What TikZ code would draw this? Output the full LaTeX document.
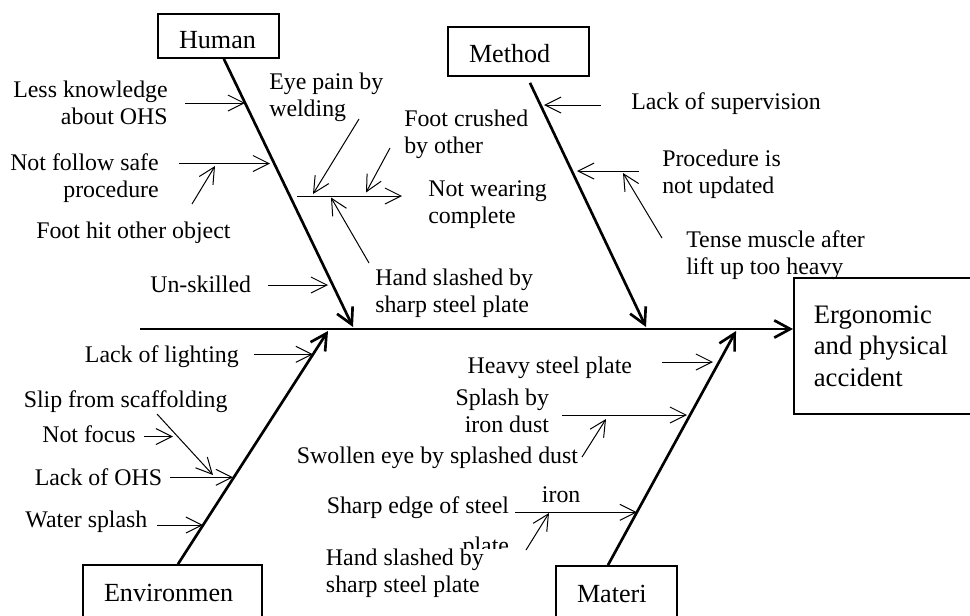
\documentclass[tikz,border=0pt]{standalone}
\usepackage{fontspec}
\setmainfont{Liberation Serif}
\usetikzlibrary{arrows.meta,calc}
\tikzset{
  cause/.style={inner sep=0pt, font=\fontsize{17.9pt}{20.25pt}\selectfont},
  category/.style={draw, line width=1.3pt, inner ysep=0pt, inner xsep=15.75pt,
                   align=flush left, text depth=0pt,
                   font=\fontsize{19.6pt}{23pt}\selectfont},
  effect/.style={draw, line width=1.3pt, inner ysep=0pt, inner xsep=15pt,
                 align=flush left, text width=130pt, minimum height=102pt,
                 font=\fontsize{20pt}{23.6pt}\selectfont},
  bone/.style={-{Straight Barb[length=12pt,width=13pt]}, line width=2pt},
  twig/.style={-{Straight Barb[length=12pt,width=12pt]}, line width=0.75pt}
}
\begin{document}
\begin{tikzpicture}[x=0.75pt, y=-0.75pt]
\useasboundingbox (0,0) rectangle (970,615);
\node[category, text width=59.25pt, minimum height=33pt, text height=18pt] (human) at (218.5,36) {Human};
\node[category, text width=74.25pt, minimum height=36.75pt, text height=17.2pt] (method) at (518.5,51.5) {Method};
\node[category, text width=102.75pt, minimum height=42pt, text height=12pt] (environment) at (172.5,593) {Environmen};
\node[category, text width=59.25pt, minimum height=42pt, text height=12pt] (material) at (616.5,594) {Materi};
\node[effect, anchor=north west] (accident) at (793,277) {Ergonomic\\and physical\\accident};

\coordinate (spine) at (140,329);
\coordinate (hj) at (353,327);
\coordinate (mj) at (646,327);
\coordinate (ej) at (328,331);
\coordinate (aj) at (736,331);
\draw[bone] (spine) -- (spine -| accident.west);
\draw[bone] ([xshift=4pt]human.south) -- (hj);
\draw[bone] ([xshift=8.6pt,yshift=-4.5pt]method.south) -- (mj);
\draw[bone] ([xshift=4.1pt]environment.north) -- (ej);
\draw[bone] ([xshift=-6.4pt]material.north) -- (aj);

\node[cause, anchor=north east, align=right] (knowledge) at (168,80.7) {Less knowledge\\about OHS};
\node[cause, anchor=north east, align=right] (procedure) at (159,153.7) {Not follow safe\\procedure};
\node[cause, anchor=north west] (foothit) at (36,221.7) {Foot hit other object};
\node[cause, anchor=north west] (unskilled) at (150,275.7) {Un-skilled};
\node[cause, anchor=north west, align=left] (eyepain) at (269,72.7) {Eye pain by\\welding};
\node[cause, anchor=north west, align=left] (crushed) at (404,109.7) {Foot crushed\\by other};
\node[cause, anchor=north west, align=left] (wearing) at (428,180.7) {Not wearing\\complete};
\node[cause, anchor=north west, align=left] (slashed) at (375,268.7) {Hand slashed by\\sharp steel plate};

\coordinate (kn0) at (185,103);   \coordinate (kn1) at (245,103);
\coordinate (pr0) at (179,163.5); \coordinate (pr1) at (270,163.5);
\coordinate (fh0) at (192,204);   \coordinate (fh1) at (215,166);
\coordinate (un0) at (268,285);   \coordinate (un1) at (328,285);
\coordinate (nw0) at (297,196);   \coordinate (nw1) at (402,196);
\coordinate (ep0) at (359,119);   \coordinate (ep1) at (313,194);
\coordinate (fc0) at (390,148);   \coordinate (fc1) at (366,192.5);
\coordinate (hs0) at (369,263);   \coordinate (hs1) at (331,197.5);
\draw[twig] (kn0) -- (kn1);
\draw[twig] (pr0) -- (pr1);
\draw[twig] (fh0) -- (fh1);
\draw[twig] (un0) -- (un1);
\draw[twig] (nw0) -- (nw1);
\draw[twig] (ep0) -- (ep1);
\draw[twig] (fc0) -- (fc1);
\draw[twig] (hs0) -- (hs1);

\node[cause, anchor=north west] (supervision) at (631,92.7) {Lack of supervision};
\node[cause, anchor=north west, align=left] (updated) at (662,149.7) {Procedure is\\not updated};
\node[cause, anchor=north west, align=left] (tense) at (686,230.7) {Tense muscle after\\lift up too heavy};
\coordinate (su0) at (601,105); \coordinate (su1) at (544,105);
\coordinate (up0) at (639,171); \coordinate (up1) at (577,171);
\coordinate (te0) at (662,238); \coordinate (te1) at (623,173);
\draw[twig] (su0) -- (su1);
\draw[twig] (up0) -- (up1);
\draw[twig] (te0) -- (te1);

\node[cause, anchor=north east] (lighting) at (239,345.7) {Lack of lighting};
\node[cause, anchor=north west] (slip) at (23.5,390.7) {Slip from scaffolding};
\node[cause, anchor=north east] (focus) at (136,425.7) {Not focus};
\node[cause, anchor=north east] (ohs) at (162.3,468.7) {Lack of OHS};
\node[cause, anchor=north east] (water) at (147.7,510.7) {Water splash};
\coordinate (li0) at (254,354.3); \coordinate (li1) at (313,354.3);
\coordinate (sl0) at (157,414);   \coordinate (sl1) at (213,475);
\coordinate (fo0) at (144,436.5); \coordinate (fo1) at (173,436.5);
\coordinate (oh0) at (170,477.3); \coordinate (oh1) at (233,477.3);
\coordinate (wa0) at (157,525);   \coordinate (wa1) at (203,525);
\draw[twig] (li0) -- (li1);
\draw[twig] (sl0) -- (sl1);
\draw[twig] (fo0) -- (fo1);
\draw[twig] (oh0) -- (oh1);
\draw[twig] (wa0) -- (wa1);

\node[cause, anchor=north east] (heavy) at (632.3,356.7) {Heavy steel plate};
\node[cause, anchor=north east, align=right] (splash) at (549.3,388.7) {Splash by\\iron dust};
\node[cause, anchor=north west] (swollen) at (296.7,446.7) {Swollen eye by splashed dust};
\node[cause, anchor=north east, align=right] (edge) at (509.3,496.7) {Sharp edge of steel\\[9.75pt]plate};
\node[cause, anchor=north west] (iron) at (541.7,486.7) {iron};
\node[cause, anchor=north west, align=flush left, text width=142pt, fill=white] (handslash) at (325.7,548.7) {Hand slashed by\\sharp steel plate};
\coordinate (he0) at (662,362);   \coordinate (he1) at (713,362);
\coordinate (sp0) at (562,415);   \coordinate (sp1) at (687,415);
\coordinate (sw0) at (582,457);   \coordinate (sw1) at (606,419);
\coordinate (ed0) at (515,512.3); \coordinate (ed1) at (637,512.3);
\coordinate (hb0) at (526,550);   \coordinate (hb1) at (549,513);
\draw[twig] (he0) -- (he1);
\draw[twig] (sp0) -- (sp1);
\draw[twig] (sw0) -- (sw1);
\draw[twig] (ed0) -- (ed1);
\draw[twig] (hb0) -- (hb1);
\end{tikzpicture}
\end{document}
